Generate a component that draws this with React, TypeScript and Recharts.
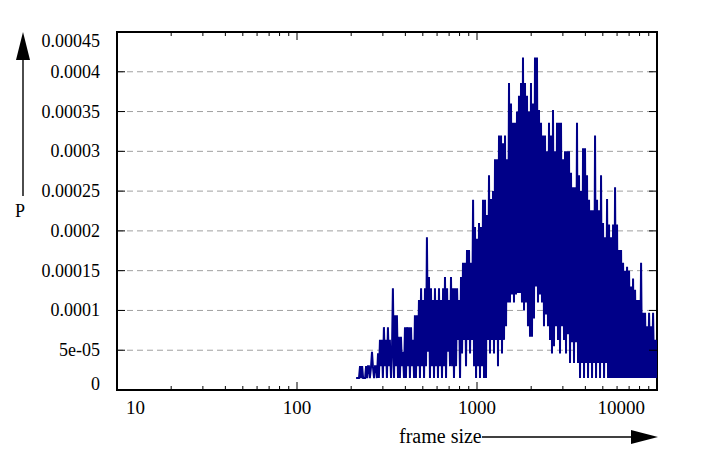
import React from "react";
import { LineChart, Line, XAxis, YAxis, CartesianGrid, ReferenceArea } from "recharts";

// frame sizes (bytes) and probability in units of 1e-5
const frameSize = [
  213, 221, 224, 227, 230, 233, 239, 242, 245, 248,
  251, 254, 258, 261, 264, 268, 271, 275, 278, 282,
  285, 289, 293, 296, 300, 304, 308, 312, 316, 320,
  324, 328, 333, 337, 341, 346, 350, 355, 359, 364,
  368, 373, 378, 383, 388, 393, 398, 403, 408, 414,
  419, 424, 430, 435, 441, 447, 452, 458, 464, 470,
  476, 482, 489, 495, 501, 508, 514, 521, 527, 534,
  541, 548, 555, 562, 570, 577, 584, 592, 600, 607,
  615, 623, 631, 639, 648, 656, 664, 673, 682, 690,
  699, 708, 717, 727, 736, 745,
  755, 765, 775, 785, 795, 805, 815, 826, 836, 847,
  858, 869, 880, 892, 903, 915, 927, 939, 951, 963,
  975, 988, 1000, 1013, 1026, 1039, 1053, 1066, 1080, 1094,
  1108, 1122, 1137, 1151, 1166, 1181, 1196, 1212, 1227, 1243,
  1259, 1275, 1292, 1308, 1325, 1342, 1360, 1377, 1395, 1413,
  1431, 1450, 1468, 1487, 1506, 1525, 1545, 1565, 1585, 1605,
  1626, 1647, 1668, 1690, 1711, 1734, 1756, 1778, 1801, 1825,
  1848, 1872, 1896, 1920, 1945, 1970, 1995, 2021, 2047, 2073,
  2100, 2127, 2154, 2182, 2210, 2239, 2268, 2297, 2326, 2356,
  2387, 2417, 2449, 2480, 2512, 2545, 2577, 2610, 2644, 2678,
  2713, 2748, 2783, 2818, 2855, 2892, 2929, 2967, 3005, 3044,
  3083, 3123, 3163, 3204, 3245, 3287, 3329, 3372, 3415, 3459,
  3504, 3549, 3594, 3641, 3688, 3736, 3784, 3833, 3882, 3932,
  3983, 4034, 4086, 4139, 4192, 4246, 4301, 4356, 4413, 4469,
  4527, 4585, 4645, 4704, 4765, 4826, 4888, 4951, 5015, 5080,
  5145, 5212, 5279, 5347, 5415, 5485, 5556, 5627, 5700, 5773,
  5848, 5923, 5999, 6077, 6155, 6234, 6315, 6396, 6479, 6562,
  6646, 6732, 6819, 6906, 6995, 7085, 7177, 7269, 7362, 7457,
  7554, 7651, 7749, 7849, 7950, 8053, 8157, 8262, 8368, 8476,
  8585, 8696, 8808, 8921, 9036, 9152, 9270, 9390, 9510, 9633,
  9757, 9883, 10000,
];

const probE5 = [
  1.5, 1.5, 3, 1.5, 3, 1.5, 1.5, 3, 1.5, 3,
  3, 1.5, 3, 4.8, 3, 1.5, 3, 3, 1.5, 4.6,
  1.5, 6.3, 3, 6.3, 1.5, 7.9, 3, 6.3, 1.5, 7.9,
  3, 6.3, 1.5, 4.8, 12.8, 1.5, 9.4, 3, 9.4, 1.5,
  6.7, 1.5, 6.7, 3, 4.8, 1.5, 7.9, 1.5, 7.9, 3,
  7.9, 1.5, 7.9, 3, 6.3, 1.5, 9.4, 1.5, 9.4, 3,
  11.3, 1.5, 12.8, 3, 11.3, 1.5, 12.8, 3, 19.2, 4.8,
  14.2, 1.5, 12.8, 3, 11.3, 1.5, 12.8, 3, 11.3, 1.5,
  12.8, 3, 11.3, 1.5, 12.8, 3, 14.2, 1.5, 12.8, 4.8,
  11.3, 3, 14.2, 3, 12.8, 1.5,
  12.8, 3, 12.8, 6.3, 11.3, 1.5, 14.2, 4.6, 16, 6.3,
  16, 3, 17.6, 6.3, 17.6, 4.6, 16, 6.3, 23.9, 3,
  20.5, 1.5, 19, 3, 21, 1.5, 20.5, 3, 23.9, 1.5,
  23.9, 1.5, 22, 6.3, 27, 4.6, 24, 6.3, 25, 4.6,
  29, 6.3, 29, 3, 32, 6.3, 32, 4.6, 31, 6.3,
  32, 8, 29, 11, 38.6, 11, 36, 12, 33.6, 11,
  33.6, 12, 35, 12.2, 37, 12.2, 38.6, 11, 41.8, 10,
  38.6, 11, 37, 8, 35, 6.7, 38.6, 6.7, 36, 9,
  41.8, 13, 41.8, 11, 35.2, 12, 33.6, 11, 32, 8,
  32, 9.5, 30, 8, 33.6, 6.3, 32, 4.6, 35.2, 5.5,
  30, 8, 33.6, 6.3, 33.6, 4.6, 33.6, 8, 29, 6.3,
  30, 4.6, 30, 7, 30, 3.4, 27.3, 6, 25.5, 3.4,
  25.5, 6, 33.6, 3.4, 27, 1.5, 25, 3.4, 30.4, 1.5,
  30.4, 3.4, 27, 1.5, 23.9, 3.4, 22.6, 1.5, 22.6, 3.4,
  32, 1.5, 23.9, 3.4, 22.6, 1.5, 27, 3.4, 21, 1.5,
  19.2, 3.4, 24, 1.5, 20.8, 1.5, 19.2, 1.5, 20.8, 1.5,
  25.5, 1.5, 20.8, 1.5, 17.6, 1.5, 17.6, 1.5, 16, 1.5,
  15, 1.5, 15.5, 1.5, 15, 1.5, 13, 1.5, 14, 1.5,
  12.6, 1.5, 11.3, 1.5, 11.3, 1.5, 16, 1.5, 9.7, 1.5,
  9.7, 1.5, 8, 1.5, 9.7, 1.5, 8, 1.5, 9.7, 1.5,
  6.3, 1.5, 6.3,
];

const xTicks = [
  10, 20, 30, 40, 50, 60, 70, 80, 90,
  100, 200, 300, 400, 500, 600, 700, 800, 900,
  1000, 2000, 3000, 4000, 5000, 6000, 7000, 8000, 9000, 10000,
];
const xMajor = [10, 100, 1000, 10000];
const xGrid = [100, 1000];

const yTicks = [0, 0.00005, 0.0001, 0.00015, 0.0002, 0.00025, 0.0003, 0.00035, 0.0004, 0.00045];
const yTickLabels = ["0", "5e-05", "0.0001", "0.00015", "0.0002", "0.00025", "0.0003", "0.00035", "0.0004", "0.00045"];

const data = frameSize.map((f, i) => ({ f, p: probE5[i] * 1e-5 }));

const W = 708;
const H = 456;
const LEFT = 117;
const RIGHT = 657;
const TOP = 32;
const BOTTOM = 390;
const FONT = "'Times New Roman', 'Liberation Serif', 'DejaVu Serif', serif";
const FS = 18;

function XTick(props: any) {
  const { x, payload } = props;
  const v = payload.value;
  const major = xMajor.includes(v);
  const len = major ? 8 : 4;
  let anchor = "middle";
  let tx = x;
  if (v === 10) { anchor = "start"; tx = x + 9; }
  if (v === 10000) { anchor = "end"; tx = x - 12; }
  return (
    <g>
      <line x1={x} x2={x} y1={BOTTOM} y2={BOTTOM - len} stroke="#000" strokeWidth={1} />
      <line x1={x} x2={x} y1={TOP} y2={TOP + len} stroke="#000" strokeWidth={1} />
      {major && (
        <text x={tx} y={BOTTOM + 24} textAnchor={anchor} style={{ fontFamily: FONT, fontSize: 19 }} fill="#000">
          {String(v)}
        </text>
      )}
    </g>
  );
}

function YTick(props: any) {
  const { y, payload } = props;
  const idx = yTicks.indexOf(payload.value);
  let base = y + 6;
  if (idx === 0) base = y;
  if (idx === yTicks.length - 1) base = y + 15;
  return (
    <g>
      <line x1={LEFT} x2={LEFT + 8} y1={y} y2={y} stroke="#000" strokeWidth={1} />
      <line x1={RIGHT} x2={RIGHT - 8} y1={y} y2={y} stroke="#000" strokeWidth={1} />
      <text x={100} y={base} textAnchor="end" style={{ fontFamily: FONT, fontSize: FS }} fill="#000">
        {yTickLabels[idx]}
      </text>
    </g>
  );
}

export default function App() {
  return (
    <div style={{ position: "absolute", left: 0, top: 0, width: W, height: H, background: "#fff" }}>
      <LineChart width={W} height={H} data={data} margin={{ top: TOP, right: W - RIGHT, bottom: 36, left: 0 }}>
        <CartesianGrid
          stroke="#a0a0a0"
          strokeDasharray="6 4"
          verticalCoordinatesGenerator={({ xAxis }: any) =>
            xAxis && typeof xAxis.scale === "function" ? xGrid.map((v) => xAxis.scale(v)) : []
          }
        />
        <XAxis
          dataKey="f"
          type="number"
          scale="log"
          domain={[10, 10000]}
          allowDataOverflow
          ticks={xTicks}
          interval={0}
          tick={<XTick />}
          tickLine={false}
          axisLine={false}
          height={30}
        />
        <YAxis
          type="number"
          domain={[0, 0.00045]}
          ticks={yTicks}
          interval={0}
          tick={<YTick />}
          tickLine={false}
          axisLine={false}
          width={LEFT}
        />
        <Line
          dataKey="p"
          type="linear"
          stroke="#000088"
          strokeWidth={2}
          dot={false}
          isAnimationActive={false}
        />
        <ReferenceArea x1={10} x2={10000} y1={0} y2={0.00045} fill="none" stroke="#000" strokeWidth={2} ifOverflow="visible" />
      </LineChart>
      <svg width={W} height={H} style={{ position: "absolute", left: 0, top: 0, pointerEvents: "none" }}>
        <line x1={23} y1={196} x2={23} y2={55} stroke="#000" strokeWidth={1.4} />
        <polygon points="23,32 16,60 30,60" fill="#000" />
        <text x={20} y={217} textAnchor="middle" style={{ fontFamily: FONT, fontSize: FS }} fill="#000">P</text>
        <text x={399} y={443} style={{ fontFamily: FONT, fontSize: 20 }} fill="#000">frame size</text>
        <line x1={482} y1={437} x2={635} y2={437} stroke="#000" strokeWidth={1.4} />
        <polygon points="658,437 631,430 631,444" fill="#000" />
      </svg>
    </div>
  );
}
